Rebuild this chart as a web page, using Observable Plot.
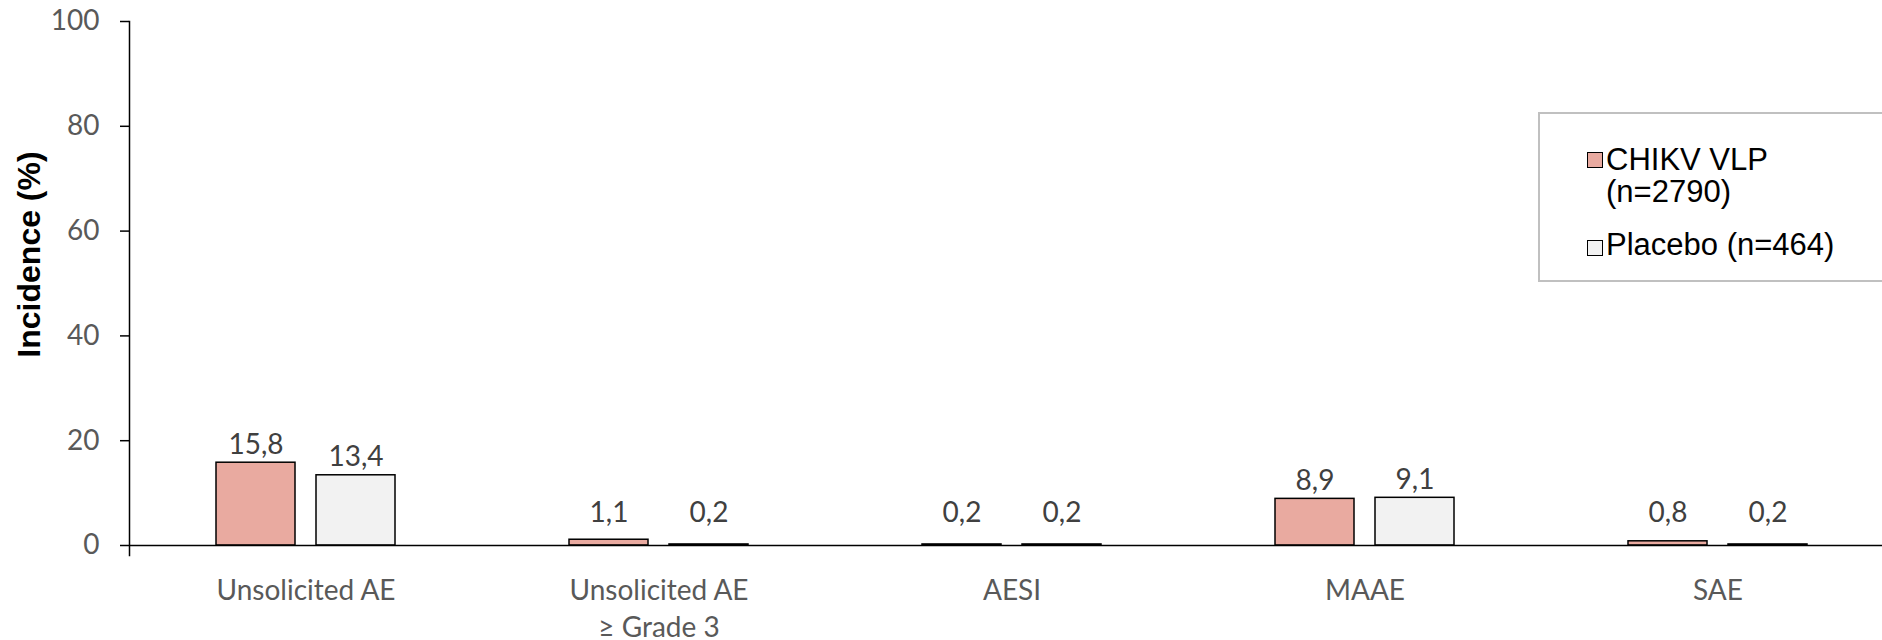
<!DOCTYPE html>
<html><head><meta charset="utf-8">
<script src="https://cdn.jsdelivr.net/npm/d3@7"></script>
<script src="https://cdn.jsdelivr.net/npm/@observablehq/plot@0.6"></script>
<style>
html,body{margin:0;padding:0;background:#fff;overflow:hidden;}
#wrap{position:relative;width:1895px;height:640px;}
.legend{position:absolute;left:1538px;top:112px;width:420px;height:170px;border:2px solid #c0c0c0;box-sizing:border-box;font-family:"Liberation Sans",Arial,sans-serif;font-size:31px;color:#000;background:#fff;}
.item{position:absolute;left:66px;line-height:32.5px;white-space:pre-line;}
.sw{position:absolute;left:47px;width:16px;height:16px;box-sizing:border-box;border:1.5px solid #000;}
</style></head><body><div id="wrap"></div>
<script>
const categories = ["Unsolicited AE", "Unsolicited AE\n≥ Grade 3", "AESI", "MAAE", "SAE"];
const seriesNames = ["CHIKV VLP", "Placebo"];
const legendLabels = ["CHIKV VLP\n(n=2790)", "Placebo (n=464)"];
const chikvValues = [15.8, 1.1, 0.2, 8.9, 0.8];
const placeboValues = [13.4, 0.2, 0.2, 9.1, 0.2];
const seriesColors = ["#e9aaa0", "#f2f2f2"];
const yTicks = [0, 20, 40, 60, 80, 100];
const yTitle = "Incidence (%)";

const rows = categories.flatMap((c, i) => [
  {category: c, series: seriesNames[0], value: chikvValues[i]},
  {category: c, series: seriesNames[1], value: placeboValues[i]}
]);
const fmt = d3.formatLocale({decimal: ",", thousands: ".", grouping: [3], currency: ["", ""]}).format(".1f");
const W = 1895, ML = 129, MR = 1;
const step = (W - ML - MR) / categories.length;

const chart = Plot.plot({
  width: W, height: 640, marginTop: 21, marginBottom: 95, marginLeft: ML, marginRight: MR,
  style: {fontFamily: "Lato, sans-serif", fontSize: "28px", background: "white", overflow: "visible"},
  fx: {domain: categories, padding: 0, axis: null, label: null},
  x: {domain: seriesNames, paddingInner: 0.21, paddingOuter: 0.87, axis: null},
  y: {domain: [0, 100], axis: null},
  color: {domain: seriesNames, range: seriesColors},
  marks: [
    Plot.barY(rows, {fx: "category", x: "series", y: "value", fill: "series", stroke: "black", strokeWidth: 1.5}),
    Plot.ruleY([0], {stroke: "black", strokeWidth: 1.5}),
    Plot.ruleX(categories, {fx: d => d, y1: 0, y2: 0, insetBottom: -10, dx: -step / 2, stroke: "black", strokeWidth: 1.5}),
    Plot.frame({anchor: "left", facetAnchor: "left", insetBottom: -10, stroke: "black", strokeWidth: 1.5}),
    Plot.axisY({ticks: yTicks, tickSize: 9, tickPadding: 21, stroke: "black", strokeWidth: 1.5, fill: "#595959", fontSize: 28, tickFormat: d3.format("d"), label: null}),
    Plot.axisFx({anchor: "bottom", tickSize: 0, tickPadding: 29, fill: "#595959", fontSize: 28, lineHeight: 1.3, label: null}),
    Plot.text(rows, {fx: "category", x: "series", y: d => Math.max(d.value, 2.7), dy: -9, text: d => fmt(d.value), lineAnchor: "bottom", fill: "#404040", fontSize: 28}),
    Plot.text([yTitle], {frameAnchor: "left", facetAnchor: "left", rotate: -90, dx: -99.5, dy: -29, textAnchor: "middle", fontFamily: "Liberation Sans", fontWeight: "bold", fontSize: 32, fill: "black", lineAnchor: "middle"})
  ]
});
const wrap = document.getElementById("wrap");
wrap.appendChild(chart);

const legend = document.createElement("div");
legend.className = "legend";
const textTops = [29.7, 115];
const swTops = [38, 126];
legendLabels.forEach((lab, i) => {
  const sw = document.createElement("div");
  sw.className = "sw";
  sw.style.top = swTops[i] + "px";
  sw.style.background = seriesColors[i];
  legend.appendChild(sw);
  const t = document.createElement("div");
  t.className = "item";
  t.style.top = textTops[i] + "px";
  t.textContent = lab;
  legend.appendChild(t);
});
wrap.appendChild(legend);
</script></body></html>
